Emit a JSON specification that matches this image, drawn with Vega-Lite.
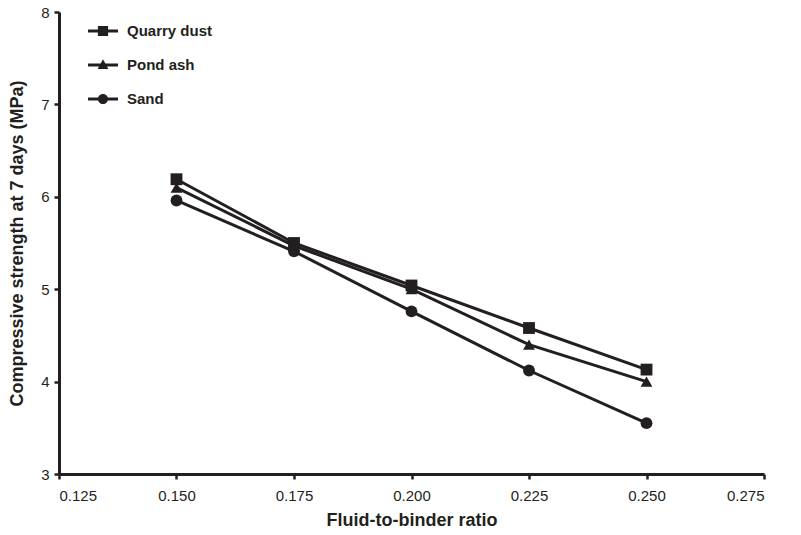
{
  "$schema": "https://vega.github.io/schema/vega-lite/v6.json",
  "width": 705,
  "height": 462,
  "autosize": "none",
  "padding": {"left": 59, "top": 12, "right": 37, "bottom": 61},
  "background": "white",
  "config": {
    "view": {"stroke": null},
    "font": "Liberation Sans",
    "axis": {"grid": false, "domainColor": "#231f20", "domainWidth": 3, "tickColor": "#231f20", "tickWidth": 2.5, "tickSize": 5, "labelColor": "#231f20", "labelFontSize": 15, "titleColor": "#231f20", "titleFontSize": 18, "titleFontWeight": "bold", "labelFont": "Liberation Sans", "titleFont": "Liberation Sans"}
  },
  "data": {
    "values": [
      {"ratio": 0.150, "strength": 6.19, "material": "Quarry dust"},
      {"ratio": 0.175, "strength": 5.50, "material": "Quarry dust"},
      {"ratio": 0.200, "strength": 5.04, "material": "Quarry dust"},
      {"ratio": 0.225, "strength": 4.58, "material": "Quarry dust"},
      {"ratio": 0.250, "strength": 4.13, "material": "Quarry dust"},
      {"ratio": 0.150, "strength": 6.10, "material": "Pond ash"},
      {"ratio": 0.175, "strength": 5.47, "material": "Pond ash"},
      {"ratio": 0.200, "strength": 5.00, "material": "Pond ash"},
      {"ratio": 0.225, "strength": 4.40, "material": "Pond ash"},
      {"ratio": 0.250, "strength": 4.00, "material": "Pond ash"},
      {"ratio": 0.150, "strength": 5.96, "material": "Sand"},
      {"ratio": 0.175, "strength": 5.41, "material": "Sand"},
      {"ratio": 0.200, "strength": 4.76, "material": "Sand"},
      {"ratio": 0.225, "strength": 4.12, "material": "Sand"},
      {"ratio": 0.250, "strength": 3.55, "material": "Sand"}
    ]
  },
  "encoding": {
    "x": {"field": "ratio", "type": "quantitative", "title": "Fluid-to-binder ratio",
      "scale": {"domain": [0.125, 0.275], "nice": false, "zero": false},
      "axis": {"values": [0.125, 0.15, 0.175, 0.2, 0.225, 0.25, 0.275], "format": ".3f", "labelPadding": 9, "titlePadding": 8}},
    "y": {"field": "strength", "type": "quantitative", "title": "Compressive strength at 7 days (MPa)",
      "scale": {"domain": [3, 8], "nice": false, "zero": false},
      "axis": {"values": [3, 4, 5, 6, 7, 8], "labelPadding": 5, "titlePadding": 14}}
  },
  "layer": [
    {
      "mark": {"type": "line", "color": "#231f20", "strokeWidth": 3},
      "encoding": {"detail": {"field": "material"}}
    },
    {
      "mark": {"type": "point", "filled": true, "color": "#231f20", "opacity": 1, "size": 140},
      "encoding": {
        "shape": {"field": "material", "type": "nominal",
          "scale": {"domain": ["Quarry dust", "Pond ash", "Sand"], "range": ["square", "triangle-up", "circle"]},
          "legend": null}
      }
    },
    {
      "mark": {"type": "point", "filled": true, "color": "#231f20", "opacity": 0, "size": 900},
      "encoding": {
        "shape": {"field": "material", "type": "nominal",
          "scale": {"domain": ["Quarry dust", "Pond ash", "Sand"], "range": [
            "M-1,-0.1H1V0.1H-1Z M-0.34,-0.34H0.34V0.34H-0.34Z",
            "M-1,-0.1H1V0.1H-1Z M0,-0.38L0.36,0.26H-0.36Z",
            "M-1,-0.1H1V0.1H-1Z M0.34,0A0.34,0.34 0 1,1 -0.34,0A0.34,0.34 0 1,1 0.34,0Z"
          ]},
          "legend": {"title": null, "orient": "none", "legendX": 29, "legendY": 4, "labelFontSize": 15, "labelFontWeight": "bold", "labelColor": "#231f20", "symbolFillColor": "#231f20", "symbolStrokeColor": "#231f20", "symbolStrokeWidth": 0, "symbolOpacity": 1, "symbolSize": 900, "rowPadding": 11, "labelOffset": 9, "labelFont": "Liberation Sans"}}
      }
    }
  ],
  "resolve": {"scale": {"shape": "independent"}, "legend": {"shape": "independent"}}
}
